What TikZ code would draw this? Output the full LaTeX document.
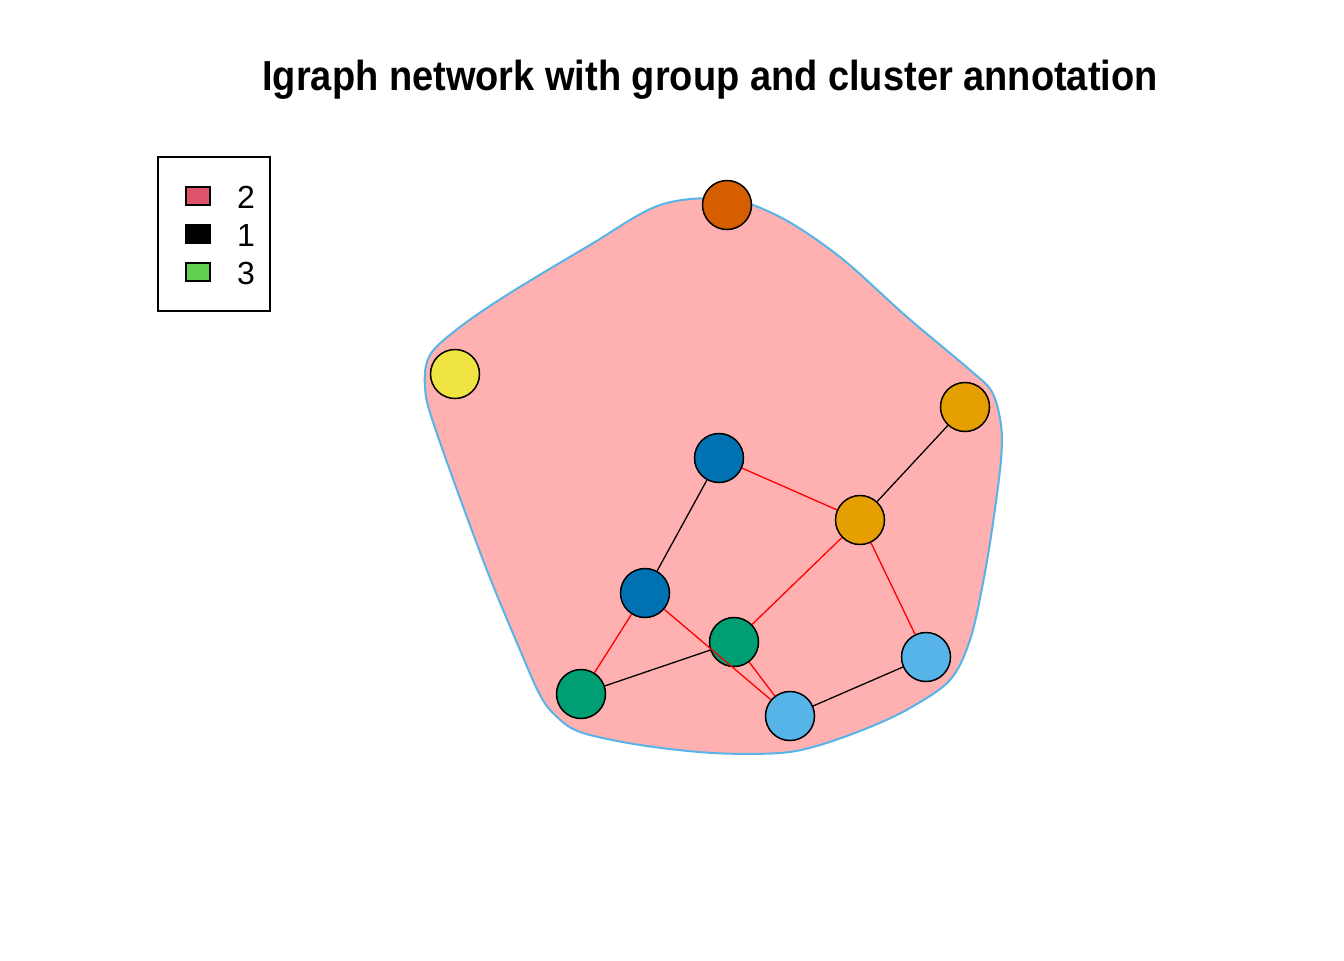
\documentclass[tikz,border=0pt]{standalone}
\usepackage{fontspec}
\setmainfont{Liberation Sans}
\usepackage{xcolor}
\usetikzlibrary{positioning}

\definecolor{hullfill}{HTML}{FFB0B0}
\definecolor{hullline}{HTML}{56B4E9}
\definecolor{vermil}{HTML}{D55E00}
\definecolor{yellowv}{HTML}{F0E442}
\definecolor{orangev}{HTML}{E69F00}
\definecolor{bluev}{HTML}{0072B2}
\definecolor{greenv}{HTML}{009E73}
\definecolor{skyv}{HTML}{56B4E9}
\definecolor{grpred}{HTML}{DF536B}
\definecolor{grpgreen}{HTML}{61D04F}

\begin{document}
\begin{tikzpicture}[
    x=0.5pt, y=-0.5pt,
    vertex/.style={circle, draw=black, line width=0.75pt, minimum size=24.5pt, inner sep=0pt},
    redge/.style={draw=red, line width=0.65pt},
    bedge/.style={draw=black, line width=0.65pt},
    keybox/.style={draw=black, line width=0.75pt, minimum width=12pt, minimum height=9pt, inner sep=0pt},
    keylabel/.style={font=\fontsize{16}{18}\selectfont, anchor=center}
]
\useasboundingbox (0,0) rectangle (1344,960);

% cluster hull
\draw[hullline, fill=hullfill, line width=1pt] plot[smooth cycle, tension=0.55] coordinates {
    (727,199) (780,217) (840,257) (907,317) (970,370) (992,392) (1001,425)
    (1001,460) (993,523) (983,583) (970,640) (950,680) (910,708) (870,727)
    (820,745) (780,753) (713,753) (640,745) (580,732) (555,715) (540,695)
    (520,650) (483,560) (435,428) (425,387) (430,355) (460,327) (510,293)
    (590,245) (660,205)
};

\node[font=\bfseries\fontsize{21}{24}\selectfont] (title) at (710,80) {\scalebox{0.905}[1]{Igraph network with group and cluster annotation}};

% legend
\node[draw=black, line width=0.6pt, minimum width=56pt, minimum height=77pt, inner sep=0pt] (legend) at (214,234) {};
\node[keybox, fill=grpred] (key2) at (198,196) {};
\node[keybox, fill=black] (key1) at (198,234) {};
\node[keybox, fill=grpgreen] (key3) at (198,272) {};
\node[keylabel] (lab2) at (246,197) {2};
\node[keylabel] (lab1) at (246,235) {1};
\node[keylabel] (lab3) at (246,273) {3};

% vertices
\node[vertex, fill=vermil] (v1) at (727,205) {};
\node[vertex, fill=yellowv] (v2) at (455,374) {};
\node[vertex, fill=orangev] (v3) at (965,407) {};
\node[vertex, fill=bluev] (v4) at (719,458) {};
\node[vertex, fill=orangev] (v5) at (860,520) {};
\node[vertex, fill=bluev] (v6) at (645,593) {};
\node[vertex, fill=greenv] (v7) at (734,642) {};
\node[vertex, fill=greenv] (v8) at (581,694) {};
\node[vertex, fill=skyv] (v9) at (926,657) {};
\node[vertex, fill=skyv] (v10) at (790,716) {};

% edges
\draw[redge] (v4) -- (v5);
\draw[bedge] (v4) -- (v6);
\draw[bedge] (v5) -- (v3);
\draw[redge] (v5) -- (v7);
\draw[redge] (v5) -- (v9);
\draw[redge] (v6) -- (v8);
\draw[redge] (v6) -- (v10);
\draw[bedge] (v8) -- (v7);
\draw[redge] (v7) -- (v10);
\draw[bedge] (v10) -- (v9);

\end{tikzpicture}
\end{document}
